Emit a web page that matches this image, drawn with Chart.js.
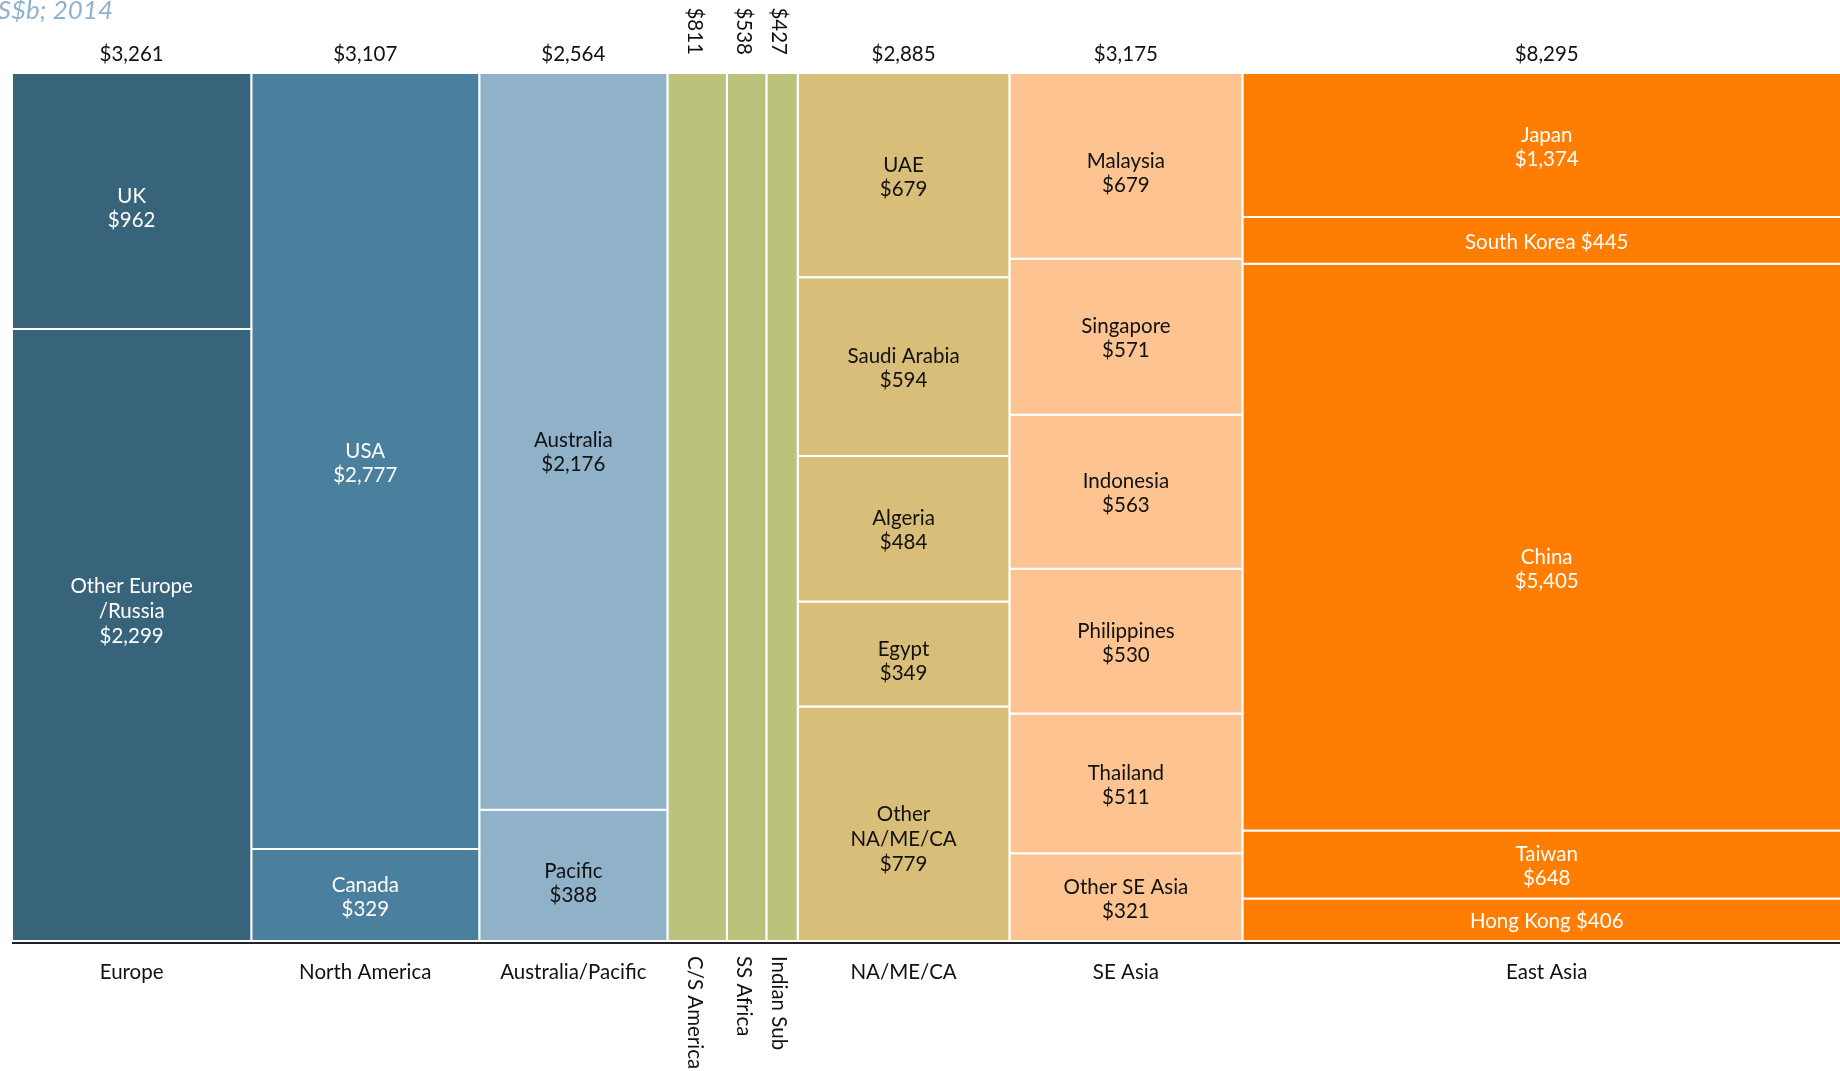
<!DOCTYPE html>
<html>
<head>
<meta charset="utf-8">
<script src="https://cdn.jsdelivr.net/npm/chart.js@4.4.1/dist/chart.umd.min.js"></script>
<style>
  html, body { margin: 0; padding: 0; background: #fff; }
  #wrap { width: 1840px; height: 1071px; position: relative; }
</style>
</head>
<body>
<div id="wrap"><canvas id="chart"></canvas></div>
<script>
// regions (columns), widths = regional totals, US$b 2014
const regions = ['Europe', 'North America', 'Australia/Pacific', 'C/S America', 'SS Africa', 'Indian Sub', 'NA/ME/CA', 'SE Asia', 'East Asia'];
const regionTotals = [3261, 3107, 2564, 811, 538, 427, 2885, 3175, 8295];
const regionColors = ['#37647a', '#4a809d', '#90b2c8', '#bcc17b', '#bcc17b', '#bcc17b', '#d8be78', '#fdc391', '#ff7d00'];
const regionTextColors = ['#ffffff', '#ffffff', '#111111', '#111111', '#111111', '#111111', '#111111', '#111111', '#ffffff'];

// countries inside each column, top to bottom
const countryNames = [
  ['UK', 'Other Europe\n/Russia'],
  ['USA', 'Canada'],
  ['Australia', 'Pacific'],
  [''], [''], [''],
  ['UAE', 'Saudi Arabia', 'Algeria', 'Egypt', 'Other\nNA/ME/CA'],
  ['Malaysia', 'Singapore', 'Indonesia', 'Philippines', 'Thailand', 'Other SE Asia'],
  ['Japan', 'South Korea', 'China', 'Taiwan', 'Hong Kong']
];
const countryValues = [
  [962, 2299],
  [2777, 329],
  [2176, 388],
  [811], [538], [427],
  [679, 594, 484, 349, 779],
  [679, 571, 563, 530, 511, 321],
  [1374, 445, 5405, 648, 406]
];
const oneLine = ['South Korea', 'Hong Kong'];

const unitLabel = 'US$b; 2014';
const fmt = v => '$' + v.toLocaleString('en-US');
const FONT = 'Lato, "Open Sans", sans-serif';

// label nudges (px) where the source places text off-centre
const labelNudge = {'UK': 5, 'Other Europe\n/Russia': -26, 'Australia': 9, 'Pacific': 6, 'China': 20, 'Other\nNA/ME/CA': 14, 'Malaysia': 6, 'Egypt': 5};

// x scale is cut off on the right, like the picture
const grandTotal = regionTotals.reduce((a, b) => a + b, 0);
const xMax = grandTotal * 0.994;

// build one closed shape per country
const datasets = [];
const cells = [];
let cum = 0;
regions.forEach((r, i) => {
  const x0 = cum, x1 = cum + regionTotals[i];
  const vals = countryValues[i];
  const sum = vals.reduce((a, b) => a + b, 0);
  let top = 1;
  vals.forEach((v, j) => {
    const bot = top - v / sum;
    datasets.push({
      data: [{x: x0, y: top}, {x: x1, y: top}, {x: x1, y: bot}, {x: x0, y: bot}, {x: x0, y: top}],
      showLine: true,
      fill: 'shape',
      backgroundColor: regionColors[i],
      borderColor: '#ffffff',
      borderWidth: 2,
      pointRadius: 0,
      tension: 0
    });
    cells.push({col: i, name: countryNames[i][j], value: v, x0, x1, top, bot});
    top = bot;
  });
  cum = x1;
});

const labelPlugin = {
  id: 'mekkoLabels',
  afterDatasetsDraw(chart) {
    const {ctx, chartArea, scales: {x, y}} = chart;
    ctx.save();

    // axis line
    ctx.fillStyle = '#222';
    ctx.fillRect(chartArea.left, chartArea.bottom + 1, chartArea.right - chartArea.left, 2);

    // cell labels
    ctx.font = '20.5px ' + FONT;
    ctx.textAlign = 'center';
    ctx.textBaseline = 'middle';
    cells.forEach(c => {
      if (!c.name) return;
      const cx = (x.getPixelForValue(c.x0) + x.getPixelForValue(c.x1)) / 2;
      const cy = (y.getPixelForValue(c.top) + y.getPixelForValue(c.bot)) / 2 + 2 + (labelNudge[c.name] || 0);
      let lines;
      if (oneLine.includes(c.name)) lines = [c.name + ' ' + fmt(c.value)];
      else lines = c.name.split('\n').concat([fmt(c.value)]);
      const lh = lines.length > 2 ? 25 : 24;
      const start = cy - (lines.length - 1) * lh / 2;
      ctx.fillStyle = regionTextColors[c.col];
      lines.forEach((l, k) => ctx.fillText(l, cx, start + k * lh));
    });

    // column totals and region names
    let acc = 0;
    regions.forEach((r, i) => {
      const px0 = x.getPixelForValue(acc);
      const px1 = x.getPixelForValue(acc + regionTotals[i]);
      acc += regionTotals[i];
      const cx = (px0 + px1) / 2;
      ctx.fillStyle = '#111';
      if (px1 - px0 > 80) {
        ctx.textAlign = 'center';
        ctx.textBaseline = 'middle';
        ctx.fillText(fmt(regionTotals[i]), cx, chartArea.top - 19);
        ctx.fillText(r, cx, chartArea.bottom + 31);
      } else {
        ctx.save();
        ctx.translate(cx - 3, chartArea.top - 18);
        ctx.rotate(Math.PI / 2);
        ctx.textAlign = 'right';
        ctx.textBaseline = 'middle';
        ctx.fillText(fmt(regionTotals[i]), 0, 0);
        ctx.restore();
        ctx.save();
        ctx.translate(cx - 3, chartArea.bottom + 15);
        ctx.rotate(Math.PI / 2);
        ctx.textAlign = 'left';
        ctx.textBaseline = 'middle';
        ctx.fillText(r, 0, 0);
        ctx.restore();
      }
    });

    // unit label, cut off at the top-left like the source
    ctx.font = 'italic 26px ' + FONT;
    ctx.fillStyle = '#8fb3ce';
    ctx.textAlign = 'left';
    ctx.textBaseline = 'alphabetic';
    ctx.fillText(unitLabel, -20, 19);

    ctx.restore();
  }
};

new Chart(document.getElementById('chart'), {
  type: 'scatter',
  data: {datasets},
  options: {
    responsive: true,
    maintainAspectRatio: false,
    animation: false,
    events: [],
    layout: {padding: {left: 12, top: 73, right: 0, bottom: 130}},
    scales: {
      x: {type: 'linear', display: false, min: 0, max: xMax},
      y: {type: 'linear', display: false, min: 0, max: 1}
    },
    plugins: {
      legend: {display: false},
      tooltip: {enabled: false},
      title: {display: false}
    }
  },
  plugins: [labelPlugin]
});
</script>
</body>
</html>
